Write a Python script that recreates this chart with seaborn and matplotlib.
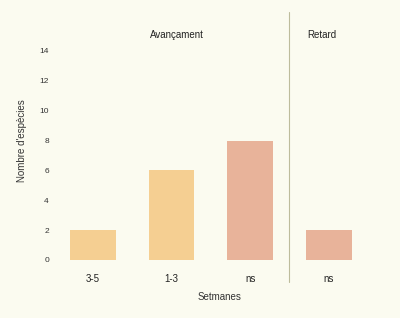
import matplotlib
matplotlib.use("Agg")
import matplotlib.pyplot as plt
import seaborn as sns
import pandas as pd

groups = ["Avançament", "Avançament", "Avançament", "Retard"]
weeks = ["3-5", "1-3", "ns", "ns"]
values = [2, 6, 8, 2]
colors = ["#f5cf92", "#f5cf92", "#e8b39a", "#e8b39a"]
yticks = [0, 2, 4, 6, 8, 10, 12, 14]

df = pd.DataFrame({"id": [f"{g}-{w}" for g, w in zip(groups, weeks)],
                   "val": values})

sns.set_style("white")
plt.rcParams["font.family"] = ["Liberation Sans", "DejaVu Sans"]

bg = "#fbfbf0"
fig = plt.figure(figsize=(4.0, 3.18), dpi=100, facecolor=bg)
ax = fig.add_axes([60/400, 58/318, 320/400, 16*14.93/318])
ax.set_facecolor(bg)

sns.barplot(data=df, x="id", y="val", hue="id", palette=colors, width=0.58,
            legend=False, ax=ax, saturation=1, linewidth=0)

ax.set_xlim(-0.42, 3.65)
ax.set_ylim(0, 16)
ax.set_yticks(yticks)
ax.set_yticklabels([str(t) for t in yticks], fontsize=6, color="#333333")
ax.set_xticks(range(len(weeks)))
ax.set_xticklabels(weeks, fontsize=7, color="#222222")
ax.tick_params(axis="both", length=0)
ax.tick_params(axis="y", pad=8)
ax.tick_params(axis="x", pad=10)
for s in ax.spines.values():
    s.set_visible(False)

ax.set_xlabel("Setmanes", fontsize=7, color="#333333", labelpad=6)
ax.set_ylabel("Nombre d'espècies", fontsize=7, color="#333333", labelpad=9)

ax.plot([2.49, 2.49], [-1.47, 16.6], color="#bdbc9c", lw=0.8, clip_on=False)
ax.text(1.07, 15.1, "Avançament", fontsize=7, ha="center", va="center", color="#222222")
ax.text(2.91, 15.1, "Retard", fontsize=7, ha="center", va="center", color="#222222")

fig.savefig("out.png", dpi=100, facecolor=bg)
